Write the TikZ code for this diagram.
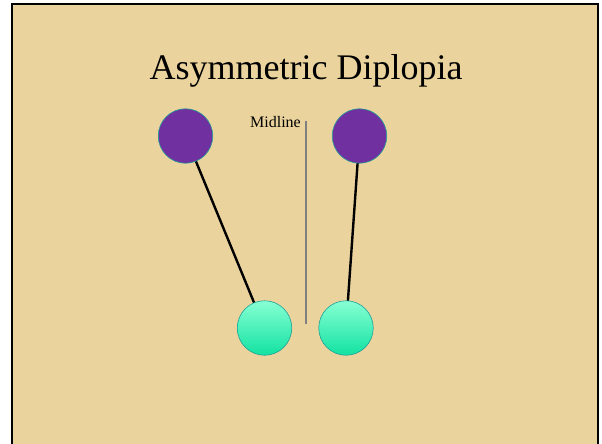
\documentclass[tikz,border=0pt]{standalone}
\usepackage{fontspec}
\setmainfont{Liberation Serif}
\usetikzlibrary{backgrounds}
\definecolor{papyrus}{RGB}{234,211,157}
\definecolor{eyepurple}{RGB}{112,48,160}
\definecolor{rimteal}{RGB}{30,160,150}
\definecolor{aquatop}{RGB}{135,255,212}
\definecolor{aquabot}{RGB}{18,226,160}
\definecolor{midgrey}{RGB}{128,128,128}
\begin{document}
\begin{tikzpicture}[x=1pt,y=-1pt,
  target/.style={circle, minimum size=54.5pt, inner sep=0pt, fill=eyepurple, draw=rimteal, line width=0.6pt},
  eyeball/.style={circle, minimum size=54.5pt, inner sep=0pt, top color=aquatop, bottom color=aquabot, draw=rimteal, line width=0.6pt},
  gaze/.style={draw=black, line width=2.4pt},
  midrule/.style={draw=midgrey, line width=1.6pt}]
\useasboundingbox (0,0) rectangle (602,444);
\begin{scope}[on background layer]
\fill[white] (0,0) rectangle (602,444);
\fill[papyrus] (12,4.5) rectangle (598,446);
\draw[black, line width=2pt] (12,446) -- (12,4.5) -- (598,4.5) -- (598,446);
\end{scope}
\node[font=\fontsize{36}{40}\selectfont, anchor=base] (title) at (306,79) {Asymmetric Diplopia};
\node[target] (pl) at (185.5,136) {};
\node[target] (pr) at (359.5,136) {};
\node[eyeball] (cl) at (264.5,328) {};
\node[eyeball] (cr) at (346,328) {};
\node[font=\fontsize{16}{18}\selectfont, anchor=base east, inner sep=0pt] (mid) at (301,127) {Midline};
\coordinate (mtop) at (306,120.5);
\coordinate (mbot) at (306,323.5);
\draw[midrule] (mtop) -- (mbot);
\begin{scope}[on background layer]
\draw[gaze] (pl.center) -- (cl.center);
\draw[gaze] (pr.center) -- (cr.center);
\end{scope}
\end{tikzpicture}
\end{document}
